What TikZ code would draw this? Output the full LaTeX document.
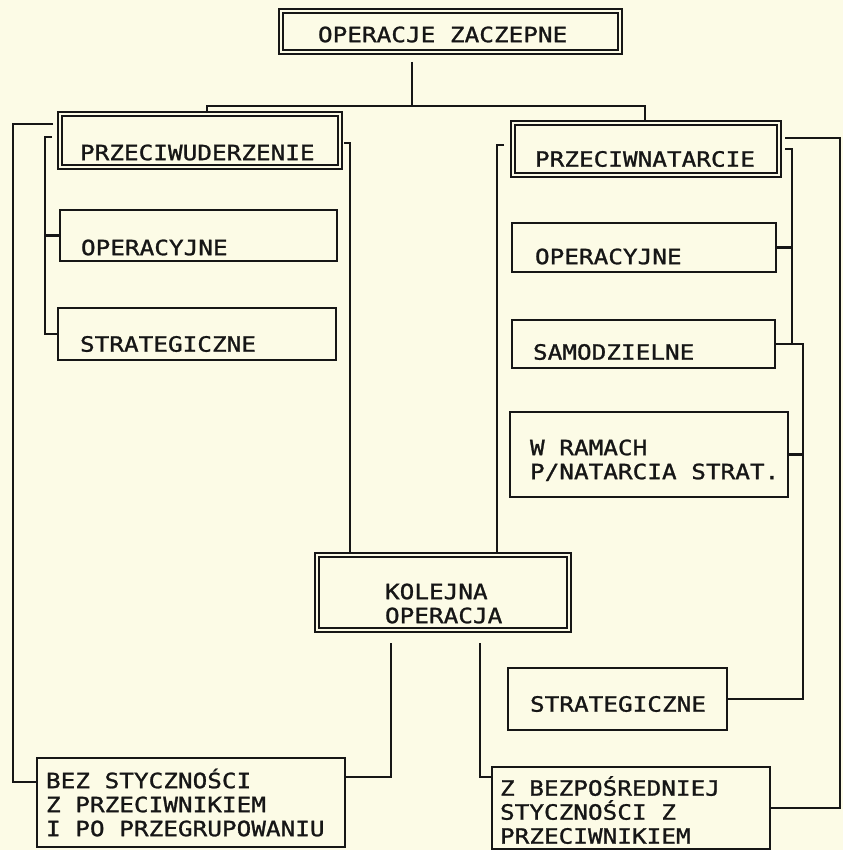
\documentclass[tikz,border=0pt]{standalone}
\usepackage{fontspec}
\newfontfamily\dotf[FakeStretch=1.16,FakeBold=1.2]{DejaVu Sans Mono}
\newcommand\gapc{\hbox to 14.66pt{}}
\definecolor{paper}{RGB}{252,251,230}
\definecolor{ink}{RGB}{22,22,22}
\begin{document}
\begin{tikzpicture}[x=1pt,y=-1pt,
  bx/.style={draw=ink, line width=2.3pt, rectangle, inner ysep=0pt, align=left,
    font=\dotf\fontsize{21pt}{24pt}\selectfont, text=ink},
  dbx/.style={bx, double=paper, double distance=2pt, line width=1.7pt},
  ln/.style={draw=ink, line width=2.1pt}]
\useasboundingbox (0,0) rectangle (843,850);
\fill[paper] (0,0) rectangle (843,850);

% boxes
\node[dbx, minimum width=339pt, minimum height=41pt, inner xsep=37pt, text width=265pt, text height=21.3pt, text depth=0pt] (top) at (450.5,31.5) {OPERACJE\gapc ZACZEPNE};
\node[dbx, minimum width=280pt, minimum height=53pt, inner xsep=20pt, text width=240pt, text height=39.3pt, text depth=0pt] (pu) at (200,140.5) {PRZECIWUDERZENIE};
\node[bx, minimum width=277pt, minimum height=51pt, inner xsep=21pt, text width=235pt, text height=39.3pt, text depth=0pt] (opl) at (198.5,235.5) {OPERACYJNE};
\node[bx, minimum width=278pt, minimum height=52pt, inner xsep=22pt, text width=234pt, text height=35.3pt, text depth=0pt] (stl) at (197,334) {STRATEGICZNE};
\node[dbx, minimum width=266pt, minimum height=52pt, inner xsep=22pt, text width=222pt, text height=35.3pt, text depth=0pt] (pn) at (646,149) {PRZECIWNATARCIE};
\node[bx, minimum width=264pt, minimum height=49pt, inner xsep=23pt, text width=218pt, text height=33.3pt, text depth=0pt] (opr) at (644,247.5) {OPERACYJNE};
\node[bx, minimum width=263pt, minimum height=48pt, inner xsep=21pt, text width=221pt, text height=31.3pt, text depth=0pt] (sam) at (643.5,344) {SAMODZIELNE};
\node[bx, minimum width=278pt, minimum height=85pt, inner xsep=20pt, text width=238pt, text height=25.3pt, text depth=24pt] (wr) at (649,454.5) {W\gapc RAMACH\\P/NATARCIA\gapc STRAT.};
\node[dbx, minimum width=252pt, minimum height=75pt, inner xsep=68pt, text width=116pt, text height=37.3pt, text depth=24pt] (kol) at (443,592.5) {KOLEJNA\\OPERACJA};
\node[bx, minimum width=219pt, minimum height=62pt, inner xsep=22pt, text width=175pt, text height=25.3pt, text depth=0pt] (str) at (617.5,699) {STRATEGICZNE};
\node[bx, minimum width=308pt, minimum height=89pt, inner xsep=9pt, text width=290pt, text height=19.3pt, text depth=48pt] (bez) at (191,802.5) {BEZ\gapc STYCZNOŚCI\\Z\gapc PRZECIWNIKIEM\\I\gapc PO\gapc PRZEGRUPOWANIU};
\node[bx, minimum width=278pt, minimum height=82pt, inner xsep=8pt, text width=262pt, text height=23.3pt, text depth=48pt] (zb) at (631,808) {Z\gapc BEZPOŚREDNIEJ\\STYCZNOŚCI\gapc Z\\PRZECIWNIKIEM};

% connectors: top
\coordinate (j0) at (412,62);
\coordinate (jL) at (207,106);
\coordinate (jR) at (645,106);
\draw[ln] (j0) -- (j0 |- jL);
\draw[ln] (jL |- pu.north) -- (jL) -- (jR) -- (jR |- pn.north);

% left outer
\coordinate (a1) at (53,124);
\coordinate (a2) at (13,782);
\draw[ln] (a1) -| (a2) -- (a2 -| bez.west);

% left inner
\coordinate (b1) at (52,137);
\coordinate (bv) at (45,0);
\draw[ln] (b1) -| (stl.west -| bv) -- (stl.west);
\draw[ln] (opl.west) -- (opl.west -| bv);

% right of PRZECIWUDERZENIE
\coordinate (c1) at (344,143);
\coordinate (cv) at (350,0);
\draw[ln] (c1) -| (kol.north -| cv);

% left of PRZECIWNATARCIE
\coordinate (d1) at (504,145);
\coordinate (dv) at (497,0);
\draw[ln] (d1) -| (kol.north -| dv);

% right inner
\coordinate (e1) at (785,149);
\coordinate (ev) at (792,0);
\coordinate (fv) at (803,0);
\draw[ln] (e1) -| (sam.east -| ev);
\draw[ln] (opr.east) -- (opr.east -| ev);
\draw[ln] (sam.east) -- (sam.east -| fv) -- (str.east -| fv) -- (str.east);
\draw[ln] (wr.east) -- (wr.east -| fv);

% right outer
\coordinate (g1) at (785,138);
\coordinate (gv) at (840,0);
\draw[ln] (g1) -| (zb.east -| gv) -- (zb.east);

% bottom
\coordinate (h1) at (391,643);
\coordinate (h2) at (391,777);
\draw[ln] (h1) -- (h2) -- (h2 -| bez.east);
\coordinate (k1) at (480,643);
\coordinate (k2) at (480,777);
\draw[ln] (k1) -- (k2) -- (k2 -| zb.west);
\end{tikzpicture}
\end{document}
